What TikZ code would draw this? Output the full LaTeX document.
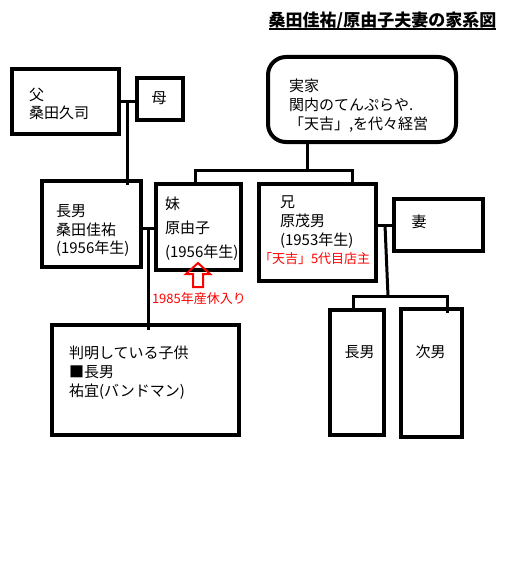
\documentclass[tikz,border=0pt]{standalone}
\usepackage{fontspec}
\setmainfont{Noto Sans CJK JP}
\usetikzlibrary{calc}
\tikzset{
  box/.style={draw, line width=4pt, inner sep=0pt, outer sep=0pt},
  conn/.style={line width=3pt},
  txt/.style={inner sep=0pt, outer sep=0pt, align=left, anchor=west, font=\fontsize{15}{19}\selectfont},
  redtxt/.style={text=red, inner sep=0pt, outer sep=0pt, anchor=west, font=\fontsize{13}{15}\selectfont},
}
\begin{document}
\begin{tikzpicture}[x=1pt,y=-1pt]
\useasboundingbox[fill=white] (0,0) rectangle (512,567);
% title
\node[inner sep=0pt, font=\bfseries\fontsize{17}{19}\selectfont] (title) at (382.5,21) {桑田佳祐/原由子夫妻の家系図};
\coordinate (ul) at (0,29);
\draw[line width=1.3pt] (title.west |- ul) -- (title.east |- ul);
% boxes
\node[box, minimum width=107pt, minimum height=65pt] (father) at (65.5,101.5) {};
\node[box, minimum width=46pt, minimum height=42pt] (mother) at (160,99) {};
\node[box, rounded corners=18pt, minimum width=188pt, minimum height=85pt] (jikka) at (362,99.5) {};
\node[box, minimum width=99pt, minimum height=86pt] (son) at (91.5,224) {};
\node[box, minimum width=85pt, minimum height=86pt] (sister) at (198.5,227) {};
\node[box, minimum width=117pt, minimum height=97pt] (brother) at (317.5,232.5) {};
\node[box, minimum width=89pt, minimum height=52pt] (wife) at (438.5,225) {};
\node[box, minimum width=187pt, minimum height=110pt] (kids) at (145.5,380) {};
\node[box, minimum width=54pt, minimum height=125pt] (bson) at (357,372.5) {};
\node[box, minimum width=61pt, minimum height=128pt] (bson2) at (431.5,373) {};
% texts
\node[txt, font=\fontsize{15}{18}\selectfont] (fathertxt) at (29,104) {父\\桑田久司};
\node[txt, anchor=center] (mothertxt) at (159,98) {母};
\node[txt] (jikkatxt) at (289,106) {実家\\関内のてんぷらや.\\「天吉」,を代々経営};
\node[txt, font=\fontsize{15}{18.5}\selectfont] (sontxt) at (56,230.5) {長男\\桑田佳祐\\(1956年生)};
\node[txt, font=\fontsize{15}{24}\selectfont] (sistertxt) at (165,229) {妹\\原由子\\(1956年生)};
\node[txt, font=\fontsize{15}{19}\selectfont] (brothertxt) at (280,222) {兄\\原茂男\\(1953年生)};
\node[redtxt] (brotherred) at (259,259) {「天吉」5代目店主};
\node[txt, anchor=center] (wifetxt) at (419,222) {妻};
\node[txt] (kidstxt) at (69,372.5) {判明している子供\\■長男\\祐宜(バンドマン)};
\node[txt, anchor=center] (bsontxt) at (359.5,352) {長男};
\node[txt, anchor=center] (bson2txt) at (430.5,352) {次男};
\node[redtxt] (leave) at (152,299) {1985年産休入り};
% arrow
\draw[red, line width=2pt, line join=miter] (198,263) -- (210,274) -- (203,274) -- (203,287) -- (193,287) -- (193,274) -- (186,274) -- cycle;
% connectors: father - mother
\coordinate (fm) at (127,101.5);
\coordinate (fmend) at (127,185);
\draw[conn] (father.east) -- (mother.west |- father.east);
\draw[conn] (fm) -- (fmend);
% son - sister
\coordinate (ss) at (148,228);
\coordinate (ssend) at (148,330);
\draw[conn] (son.east |- ss) -- (sister.west |- ss);
\draw[conn] (ss) -- (ssend);
% jikka
\coordinate (jk) at (307,170);
\coordinate (jl) at (195,170);
\coordinate (jr) at (352,170);
\draw[conn] (jikka.south -| jk) -- (jk);
\draw[conn] (sister.north -| jl) -- (jl) -- (jr) -- (brother.north -| jr);
% brother - wife
\coordinate (bw) at (385,225);
\coordinate (bwend) at (388,296);
\coordinate (cl) at (353,296);
\coordinate (cr) at (447,296);
\coordinate (crend) at (447,313);
\draw[conn] (brother.east |- bw) -- (wife.west |- bw);
\draw[conn] (bw) -- (bwend);
\draw[conn] (bson.north -| cl) -- (cl) -- (cr) -- (crend);
\end{tikzpicture}
\end{document}
